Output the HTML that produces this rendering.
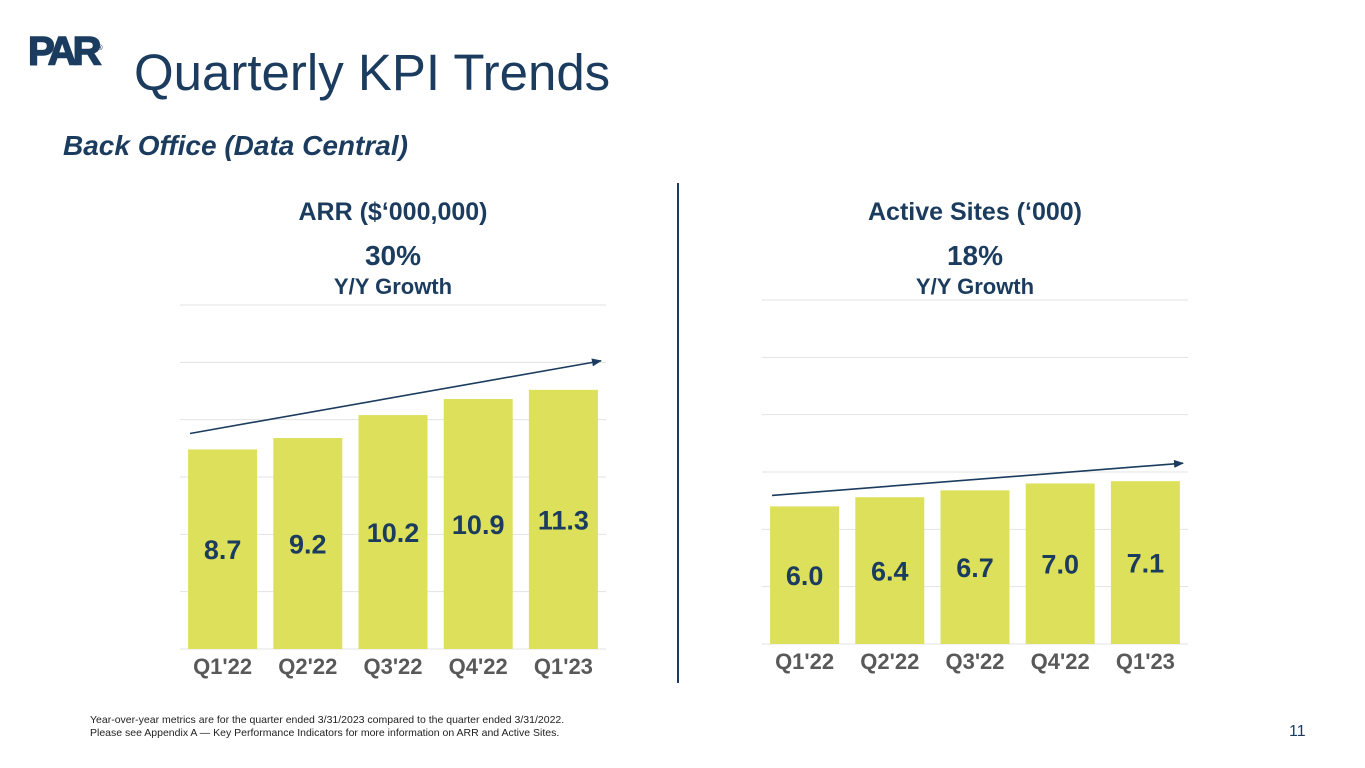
<!DOCTYPE html>
<html><head><meta charset="utf-8"><style>
body{margin:0;width:1365px;height:768px;background:#fff;font-family:"Liberation Sans",Arial,sans-serif;overflow:hidden;position:relative}
.a{position:absolute}
</style></head><body>
<div class="a" style="left:28px;top:30px;font-size:40px;font-weight:900;color:#1b3c5e;letter-spacing:-4px;line-height:38px;-webkit-text-stroke:1.5px #1b3c5e">PAR<sup style="font-size:7px;letter-spacing:0;-webkit-text-stroke:0">®</sup></div>
<div class="a" style="left:134px;top:42px;font-size:51px;color:#1b3c5e;line-height:62px">Quarterly KPI Trends</div>
<div class="a" style="left:63px;top:130px;font-size:28px;font-weight:bold;font-style:italic;color:#1b3c5e">Back Office (Data Central)</div>
<div class="a" style="left:677px;top:183px;width:2px;height:500px;background:#1b3c5e"></div>
<svg class="a" style="left:0;top:0" width="1365" height="768" id="svg"></svg>
<div class="a" style="left:90px;top:714px;font-size:10.5px;color:#222;line-height:13px">Year-over-year metrics are for the quarter ended 3/31/2023 compared to the quarter ended 3/31/2022.<br>Please see Appendix A — Key Performance Indicators for more information on ARR and Active Sites.</div>
<div class="a" style="left:1289px;top:723px;font-size:16px;color:#1b3c5e">11</div>
<script>
const categories=["Q1'22","Q2'22","Q3'22","Q4'22","Q1'23"];
const arrValues=[8.7,9.2,10.2,10.9,11.3];
const sitesValues=[6.0,6.4,6.7,7.0,7.1];
const arrLabels=["8.7","9.2","10.2","10.9","11.3"];
const sitesLabels=["6.0","6.4","6.7","7.0","7.1"];
const yMax=15, yStep=2.5;
const svg=document.getElementById('svg');
const NS='http://www.w3.org/2000/svg';
function mk(t,a,txt){const e=document.createElementNS(NS,t);for(const k in a)e.setAttribute(k,a[k]);if(txt!=null)e.textContent=txt;svg.appendChild(e);return e;}
const defs=mk('defs',{});
const m=document.createElementNS(NS,'marker');
m.setAttribute('id','ah');m.setAttribute('markerWidth','10');m.setAttribute('markerHeight','8');m.setAttribute('refX','9');m.setAttribute('refY','4');m.setAttribute('orient','auto');m.setAttribute('markerUnits','userSpaceOnUse');
const p=document.createElementNS(NS,'path');p.setAttribute('d','M0,0 L10,4 L0,8 z');p.setAttribute('fill','#1b3c5e');m.appendChild(p);defs.appendChild(m);
function chart(cfg){
  const {x0,x1,base,top,vals,labels,title,growth,cx,name,a0,a1}=cfg;
  const y=v=>base-(v/yMax)*(base-top);
  const slot=(x1-x0)/categories.length, bw=slot*0.81;
  const xc=i=>x0+slot*(i+0.5);
  let g;
  for(let v=0;v<=yMax+0.001;v+=yStep){
    g=mk('line',{x1:x0,x2:x1,y1:y(v),y2:y(v),stroke:'#e3e3e3','stroke-width':1});
    
    
  }
  vals.forEach((v,i)=>{
    const r=mk('rect',{x:xc(i)-bw/2,y:y(v),width:bw,height:base-y(v),fill:'#dde05a'});
    
    
    const t=mk('text',{x:xc(i),y:(y(v)+base)/2+10,'text-anchor':'middle','font-size':27,'font-weight':'bold',fill:'#1b3c5e'},labels[i]);
    
    
    const c=mk('text',{x:xc(i),y:base+25,'text-anchor':'middle','font-size':22,'font-weight':'bold',fill:'#595959'},categories[i]);
    
    
  });
  const a=mk('line',{x1:x0+10,y1:y(vals[0])-a0,x2:x1-5,y2:y(vals[vals.length-1])-a1,stroke:'#1b3c5e','stroke-width':1.6,'marker-end':'url(#ah)'});
  
  
  const tt=mk('text',{x:cx,y:220,'text-anchor':'middle','font-size':25,'font-weight':'bold',fill:'#1b3c5e'},title);
  
  
  const gr=mk('text',{x:cx,y:265,'text-anchor':'middle','font-size':28,'font-weight':'bold',fill:'#1b3c5e'},growth);
  
  
  const gl=mk('text',{x:cx,y:294,'text-anchor':'middle','font-size':22,'font-weight':'bold',fill:'#1b3c5e'},'Y/Y Growth');
  
  
}
chart({x0:180,x1:606,base:649,top:305,vals:arrValues,labels:arrLabels,title:'ARR ($‘000,000)',growth:'30%',cx:393,name:'arr',a0:16,a1:29});
chart({x0:762,x1:1188,base:644,top:300,vals:sitesValues,labels:sitesLabels,title:'Active Sites (‘000)',growth:'18%',cx:975,name:'sites',a0:11,a1:18});
</script>
</body></html>
